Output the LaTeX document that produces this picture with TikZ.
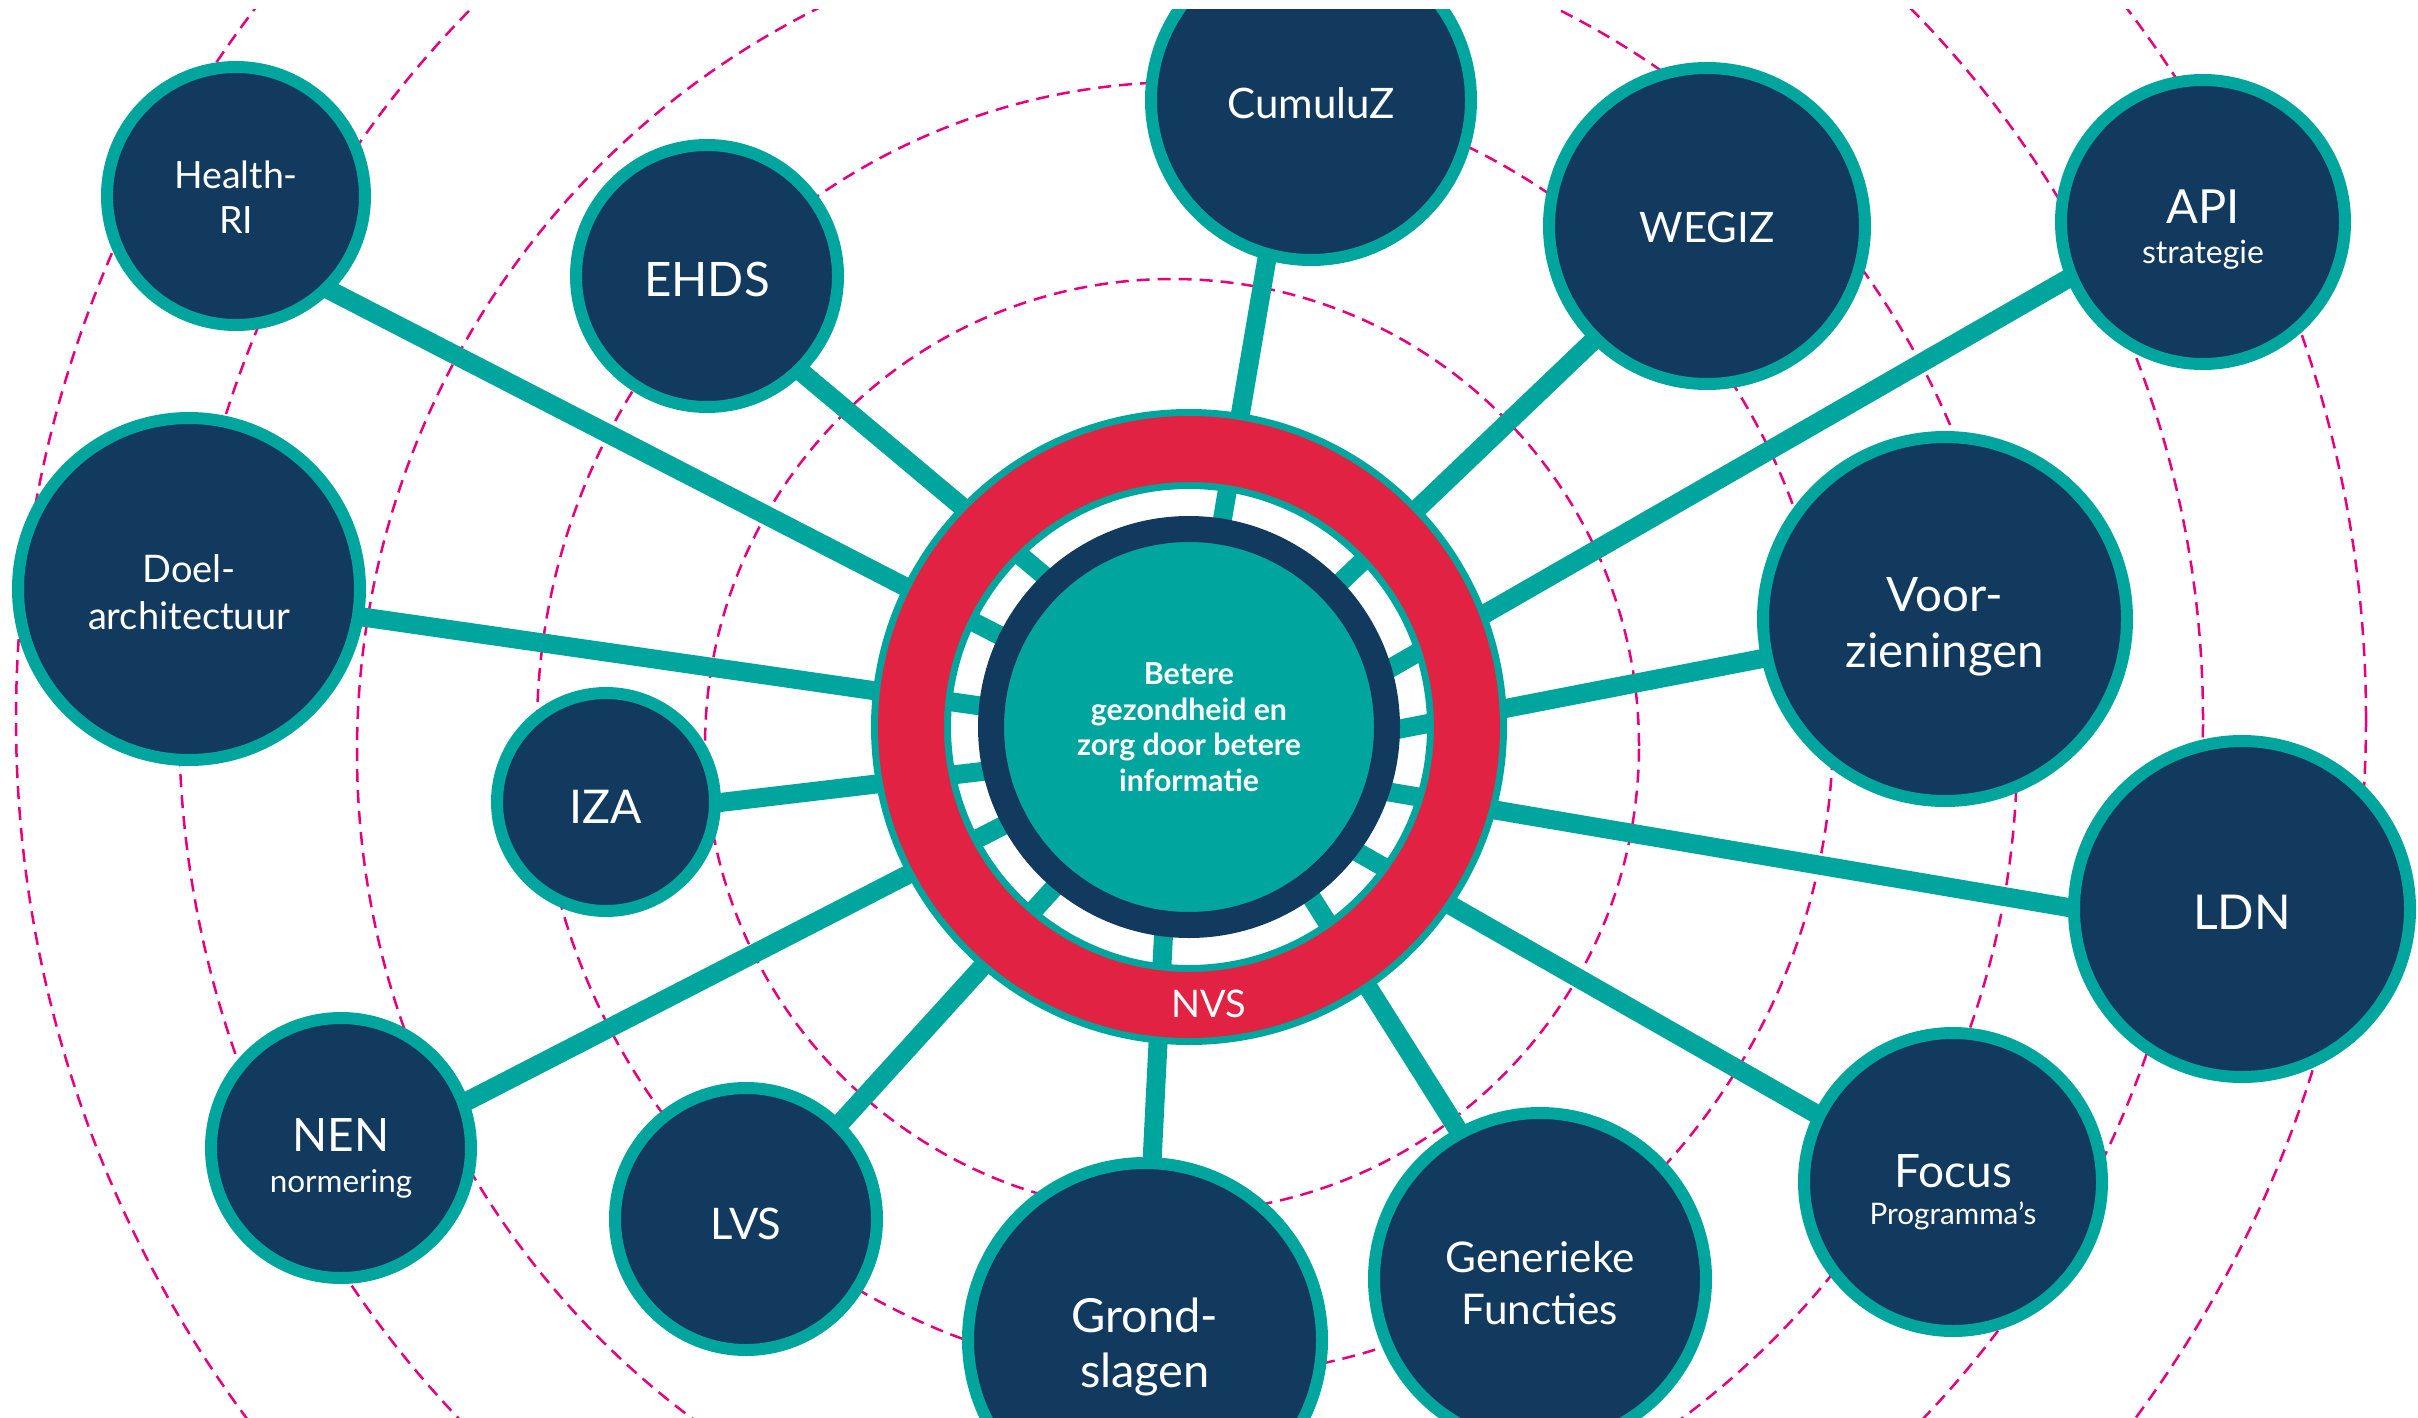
\documentclass[tikz,border=0pt]{standalone}
\usepackage{fontspec}
\setmainfont{Lato}
\usetikzlibrary{calc}
\definecolor{navyc}{RGB}{18,58,94}
\definecolor{tealc}{RGB}{0,166,157}
\definecolor{redc}{RGB}{225,34,66}
\definecolor{pinkc}{RGB}{230,0,126}
\pgfdeclarelayer{dashlayer}
\pgfdeclarelayer{spokelayer}
\pgfsetlayers{dashlayer,spokelayer,main}
\tikzset{
  bubble/.style={circle, inner sep=0pt, draw=tealc, line width=12pt, fill=navyc,
    text=white, align=center, text depth=0pt},
  spoke/.style={draw=tealc, line width=19pt},
  guide/.style={draw=pinkc, line width=2.5pt, dash pattern=on 13pt off 8pt},
}
\begin{document}
\begin{tikzpicture}[x=1pt,y=-1pt]
\useasboundingbox (0,0) rectangle (2418,1418);

% dashed guide circles
\begin{pgfonlayer}{dashlayer}
\begin{scope}
\clip (0,10) rectangle (2418,1418);
\draw[guide] (1172,746) circle[radius=467pt];
\draw[guide] (1185,730) circle[radius=648pt];
\draw[guide] (1187,752) circle[radius=830pt];
\draw[guide] (1191,720) circle[radius=1012pt];
\draw[guide] (1191,719) circle[radius=1175pt];
\end{scope}
\end{pgfonlayer}

\begin{scope}
\clip (0,10) rectangle (2418,1418);
% outer bubbles
\node[bubble, text height=75pt, minimum size=258pt, font=\fontsize{37.5}{45}\selectfont] (hr) at (236,196) {Health-\\RI};
\node[bubble, text height=40.2pt, minimum size=262pt, font=\fontsize{47.5}{50}\selectfont] (ehds) at (707,276) {EHDS};
\node[bubble, text height=36.2pt, minimum size=320pt, font=\fontsize{42}{50}\selectfont] (cum) at (1311,100) {CumuluZ};
\node[bubble, text height=33.2pt, minimum size=316pt, font=\fontsize{42}{50}\selectfont] (wegiz) at (1707,226) {WEGIZ};
\node[bubble, text height=83.7pt, minimum size=284pt, font=\fontsize{47}{40}\selectfont] (api) at (2203,222) {API\\{\fontsize{32}{40}\selectfont strategie}};
\node[bubble, text height=96pt, minimum size=364pt, font=\fontsize{47.5}{56}\selectfont] (voor) at (1945,619) {Voor-\\zieningen};
\node[bubble, text height=40.6pt, minimum size=336pt, font=\fontsize{48}{50}\selectfont] (ldn) at (2242,909) {LDN};
\node[bubble, text height=84pt, minimum size=298pt, font=\fontsize{46}{37}\selectfont] (focus) at (1953,1182) {Focus\\{\fontsize{29.7}{37}\selectfont Programma's}};
\node[bubble, text height=91.3pt, minimum size=332pt, font=\fontsize{42.3}{52}\selectfont] (gen) at (1540,1279) {Generieke\\Functies};
\node[bubble, text height=94.7pt, minimum size=354pt, font=\fontsize{47}{55}\selectfont] (grond) at (1145,1340) {Grond-\\slagen};
\node[bubble, text height=40.3pt, minimum size=262pt, font=\fontsize{43.5}{50}\selectfont] (lvs) at (746,1219) {LVS};
\node[bubble, text height=88pt, minimum size=260pt, font=\fontsize{46}{41}\selectfont] (nen) at (341,1148) {NEN\\{\fontsize{31.5}{41}\selectfont normering}};
\node[bubble, text height=42.5pt, minimum size=218pt, font=\fontsize{46.5}{50}\selectfont] (iza) at (606,802) {IZA};
\node[bubble, text height=80.2pt, minimum size=342pt, font=\fontsize{38}{47}\selectfont] (doel) at (189,589) {Doel-\\architectuur};

% centre
\node[circle, inner sep=0pt, minimum size=396pt, draw=navyc, line width=26pt, fill=tealc,
  text=white, align=center, text depth=0pt, font=\bfseries\fontsize{30.3}{35.5}\selectfont]
  (core) at (1189,727) {Betere\\gezondheid en\\zorg door betere\\informatie};
\node[circle, inner sep=0pt, minimum size=556pt, draw=tealc, line width=7pt,
  double=redc, double distance=66pt] (nvs) at (core.center) {};
\node[inner sep=0pt, text=white, text depth=0pt, font=\fontsize{38}{38}\selectfont] (nvslbl) at (1209,1004) {NVS};
\end{scope}

% spokes
\begin{pgfonlayer}{spokelayer}
\draw[spoke] ($(hr.center)+(0,46)$) -- ($(core.center)+(0,6)$);
\draw[spoke] ($(ehds.center)+(0,17)$) -- ($(core.center)+(0,-30)$);
\draw[spoke] ($(cum.center)+(-17,0)$) -- ($(core.center)+(-2,0)$);
\draw[spoke] ($(wegiz.center)+(0,6)$) -- (core.center);
\draw[spoke] ($(api.center)+(0,-21)$) -- ($(core.center)+(0,57)$);
\draw[spoke] ($(voor.center)+(0,4)$) -- ($(core.center)+(0,43)$);
\draw[spoke] ($(ldn.center)+(0,28)$) -- ($(core.center)+(0,31)$);
\draw[spoke] ($(focus.center)+(0,10)$) -- ($(core.center)+(0,29)$);
\draw[spoke] ($(gen.center)+(12,0)$) -- ($(core.center)+(15,0)$);
\draw[spoke] ($(grond.center)+(-2,0)$) -- ($(core.center)+(-15,0)$);
\draw[spoke] ($(lvs.center)+(0,8)$) -- ($(core.center)+(11,0)$);
\draw[spoke] ($(nen.center)+(0,18)$) -- ($(core.center)+(0,3)$);
\draw[spoke] ($(iza.center)+(0,14)$) -- ($(core.center)+(0,20)$);
\draw[spoke] ($(doel.center)+(0,3)$) -- ($(core.center)+(0,9)$);
\end{pgfonlayer}
\end{tikzpicture}
\end{document}
